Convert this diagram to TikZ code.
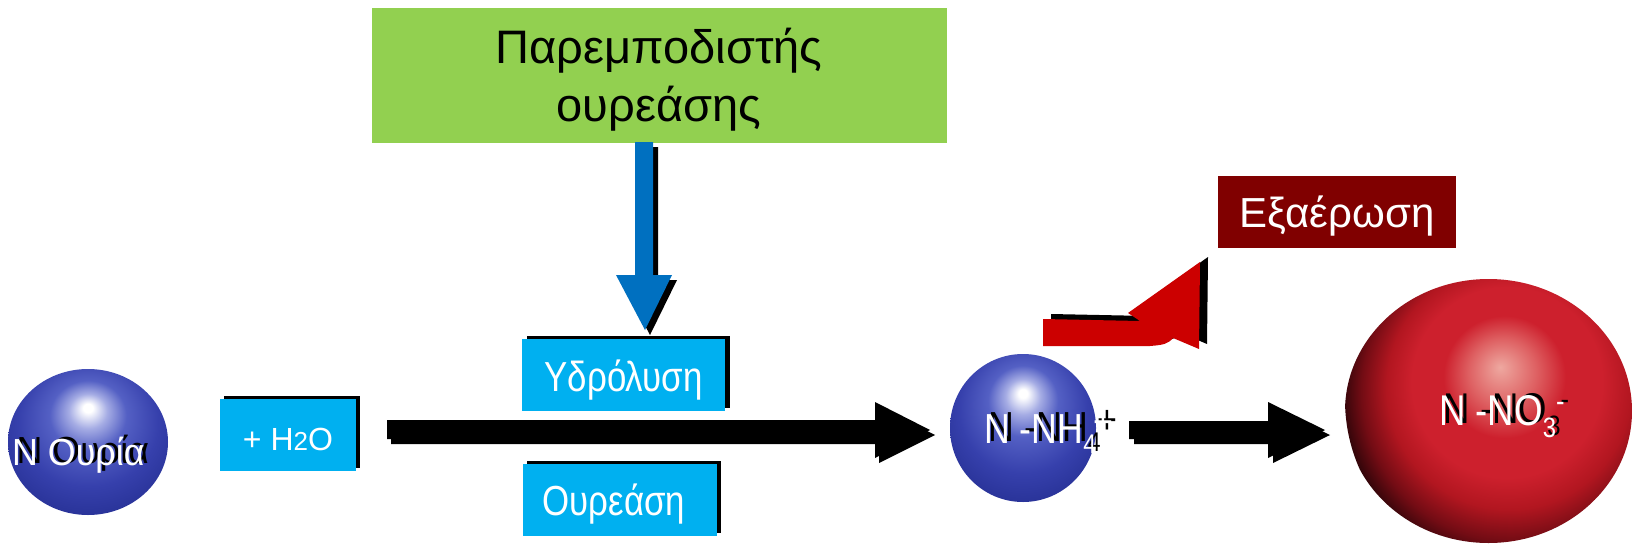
\documentclass[tikz,border=0pt]{standalone}
\usepackage{fontspec}
\setmainfont{Liberation Sans}
\newfontfamily\boxfont[FakeStretch=0.83]{Liberation Sans}
\newfontfamily\ballfont[FakeStretch=0.85]{Liberation Sans}
\newfontfamily\ureafont[FakeStretch=0.95]{Liberation Sans}
\usetikzlibrary{shapes.geometric,shadows}
\definecolor{boxblue}{HTML}{00B0F0}
\definecolor{inhgreen}{HTML}{92D050}
\definecolor{arrowblue}{HTML}{0070C0}
\definecolor{volred}{HTML}{800000}
\definecolor{arrowred}{HTML}{CC0000}
\definecolor{bsA}{RGB}{165,172,228}
\definecolor{bsB}{RGB}{84,96,196}
\definecolor{bsC}{RGB}{54,64,172}
\definecolor{bsD}{RGB}{38,48,148}
\definecolor{rsA}{RGB}{238,168,160}
\definecolor{rsB}{RGB}{222,96,98}
\definecolor{rsC}{RGB}{205,32,45}
\definecolor{rsD}{RGB}{178,22,32}
\definecolor{rsE}{RGB}{115,12,20}
\definecolor{rsF}{RGB}{40,4,8}
\pgfdeclareradialshading{bluesphere}{\pgfpoint{0bp}{12bp}}{%
 color(0bp)=(white); color(1.5bp)=(white); color(6bp)=(bsA); color(12bp)=(bsB); color(22bp)=(bsC); color(32bp)=(bsD); color(50bp)=(bsD)}
\pgfdeclareradialshading{redsphere}{\pgfpoint{-2.2bp}{4.85bp}}{%
 color(0bp)=(rsA); color(5bp)=(rsB); color(9bp)=(rsC); color(14bp)=(rsC); color(18bp)=(rsD); color(22bp)=(rsE); color(25.5bp)=(rsF); color(30bp)=(rsF)}
\newcommand\shadowlabel[3]{%
  \node[anchor=base west, inner sep=0pt, text=black, xshift=4.5pt, yshift=1.5pt] (#1s) at #2 {#3};
  \node[anchor=base west, inner sep=0pt, text=white] (#1) at #2 {#3};}
\begin{document}
\begin{tikzpicture}[x=1pt,y=-1pt,
  bluebox/.style={rectangle, fill=boxblue, text=white, inner sep=0pt, minimum height=72pt,
    text depth=0pt, font=\boxfont\fontsize{42}{48}\selectfont},
  boxshadow/.style={general shadow={fill=black, shadow xshift=#1, shadow yshift=3pt}},
  sphere/.style={ellipse, inner sep=0pt, draw=none}]
\useasboundingbox[fill=white] (0,0) rectangle (1633,546);

% inhibitor box
\node[rectangle, fill=inhgreen, minimum width=575pt, minimum height=135pt, inner sep=0pt,
  align=center, font=\fontsize{47}{58}\selectfont] (inh) at (659,75)
  {\rule{0pt}{44pt}Παρεμποδιστής\\ουρεάσης};

% blue arrow (inhibitor -> hydrolysis)
\fill[black] (640,147) -- (658,147) -- (658,280) -- (677,280) -- (650,335) -- (621,280) -- (640,280) -- cycle;
\fill[arrowblue] (635,142) -- (653,142) -- (653,275) -- (672,275) -- (645,330) -- (616,275) -- (635,275) -- cycle;

% main reaction arrow
\fill[black] (391,425) -- (879,425) -- (879,407) -- (935,435) -- (879,463) -- (879,444) -- (391,444) -- cycle;
\fill[black] (387,420) -- (875,420) -- (875,402) -- (930,430) -- (875,458) -- (875,439) -- (387,439) -- cycle;

% second arrow
\fill[black] (1134,426) -- (1273,426) -- (1273,407) -- (1330,435) -- (1273,463) -- (1273,444) -- (1134,444) -- cycle;
\fill[black] (1129,421) -- (1268,421) -- (1268,402) -- (1325,430) -- (1268,458) -- (1268,439) -- (1129,439) -- cycle;

% red bent arrow (volatilisation)
\fill[black] (1051,314) -- (1148,316) -- (1136,308) -- (1208,257) -- (1207,344) -- (1181,333)
  .. controls (1176,339) and (1171,340) .. (1158,341) -- (1051,341) -- cycle;
\fill[arrowred] (1043,319) -- (1140,321) -- (1128,313) -- (1200,262) -- (1199,349) -- (1173,338)
  .. controls (1168,344) and (1163,345) .. (1150,346) -- (1043,346) -- cycle;

% boxes
\node[bluebox, boxshadow=5pt, minimum width=203pt, text height=32pt] (hyd) at (623.5,375) {Υδρόλυση};
\node[bluebox, boxshadow=4pt, minimum width=194pt, text height=30pt] (ure) at (620,500) {\hspace*{-12pt}Ουρεάση};
\node[bluebox, boxshadow=4pt, minimum width=136pt, text height=30pt, font=\fontsize{32}{36}\selectfont]
  (water) at (288,435) {+ H{\fontsize{26}{26}\selectfont 2}O};
\node[rectangle, fill=volred, text=white, inner sep=0pt, minimum width=238pt, minimum height=72pt,
  text height=30pt, text depth=0pt, font=\fontsize{42}{48}\selectfont] (vol) at (1337,212) {Εξαέρωση};

% spheres
\node[sphere, minimum width=160pt, minimum height=146pt, shading=bluesphere] (urea) at (88,442) {};
\node[sphere, minimum width=146pt, minimum height=148pt, shading=bluesphere] (nh) at (1023,428) {};
\begin{scope}
  \clip (1488.5,411) ellipse [x radius=143.5, y radius=132];
  \node[circle, inner sep=0pt, minimum size=340pt, shading=redsphere] (noshade) at (1515,400) {};
\end{scope}
\node[sphere, minimum width=287pt, minimum height=264pt] (no) at (1488.5,411) {};

\shadowlabel{ureaL}{(12,465)}{\ureafont\fontsize{37.7}{40}\selectfont N Ουρία}
\shadowlabel{nhL}{(984,443)}{\ballfont\fontsize{42}{44}\selectfont N -NH\raisebox{-10pt}{\fontsize{27}{27}\selectfont 4}\hspace{-3pt}\raisebox{8pt}{\fontsize{40}{40}\selectfont +}}
\shadowlabel{noL}{(1439,425)}{\ballfont\fontsize{43}{44}\selectfont N -NO\raisebox{-12pt}{\fontsize{28}{28}\selectfont 3}\raisebox{14pt}{\fontsize{30}{30}\selectfont -}}
\end{tikzpicture}
\end{document}
